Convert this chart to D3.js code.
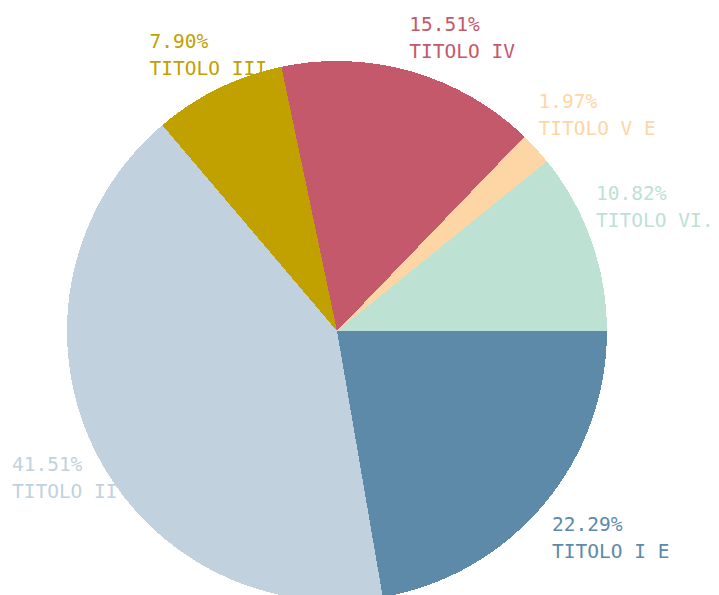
<!DOCTYPE html>
<html>
<head>
<meta charset="utf-8">
<script src="https://cdn.jsdelivr.net/npm/d3@7"></script>
<style>
  html, body { margin: 0; padding: 0; background: #fff; overflow: hidden; }
  text { font-family: "DejaVu Sans Mono", monospace; font-size: 19.5px; }
</style>
</head>
<body>
<svg id="chart"></svg>
<script>
const categories = ['TITOLO I E', 'TITOLO II', 'TITOLO III', 'TITOLO IV', 'TITOLO V E', 'TITOLO VI.'];
const shares = [22.29, 41.51, 7.90, 15.51, 1.97, 10.82];
const sliceColors = ['#5d8aa8', '#c1d1dd', '#c0a100', '#c4596c', '#fed6a6', '#bde1d3'];

const width = 719, height = 595;
const cx = 337, cy = 331, radius = 270;

const svg = d3.select('#chart')
    .attr('width', width)
    .attr('height', height);

const data = categories.map((c, i) => ({ name: c, value: shares[i], color: sliceColors[i] }));

// slices start at 3 o'clock and run clockwise
const pie = d3.pie()
    .sort(null)
    .value(d => d.value)
    .startAngle(Math.PI / 2)
    .endAngle(Math.PI / 2 + 2 * Math.PI);

const arc = d3.arc().innerRadius(0).outerRadius(radius);

const g = svg.append('g')
    .attr('transform', `translate(${cx},${cy})`);

const arcs = pie(data);

g.selectAll('path').data(arcs)
  .enter().append('path')
    .attr('d', arc)
    .attr('fill', d => d.data.color)
    .attr('shape-rendering', 'crispEdges');

// labels: two lines, left aligned, hung off the mid point of the outer edge
const labels = g.selectAll('g.label').data(arcs)
  .enter().append('g')
    .attr('class', 'label')
    .attr('fill', d => d.data.color);

labels.each(function(d) {
    const grp = d3.select(this);
    const a = (d.startAngle + d.endAngle) / 2;
    const px = radius * Math.sin(a);
    const py = -radius * Math.cos(a);

    const pct = grp.append('text').text(d.value.toFixed(2) + '%');
    const name = grp.append('text').text(d.data.name);

    let x;
    if (Math.sin(a) >= 0) {
        x = px + 10 * Math.sin(a) - 5 + (Math.cos(a) < 0 ? 6 : 0);
    } else {
        x = px - 10 - pct.node().getComputedTextLength();
    }
    // top half sits above the edge, bottom half below it
    let y1;
    if (Math.cos(a) > 0) {
        y1 = py - 14 - 27;
    } else {
        y1 = py + 26;
    }
    pct.attr('x', x).attr('y', y1);
    name.attr('x', x).attr('y', y1 + 27);
});
</script>
</body>
</html>
